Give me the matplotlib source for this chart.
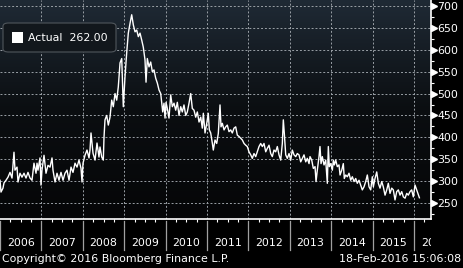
import numpy as np
import matplotlib
matplotlib.use("Agg")
import matplotlib.pyplot as plt
from matplotlib.patches import FancyBboxPatch, Rectangle
from matplotlib.colors import LinearSegmentedColormap
import matplotlib.transforms as mtransforms

# decimal years (offset from 2006.0) and values
t_off = [0.000, 0.024, 0.072, 0.097, 0.145, 0.193, 0.242, 0.290, 0.338, 0.362,
         0.411, 0.435, 0.483, 0.531, 0.580, 0.628, 0.676, 0.725, 0.773, 0.821,
         0.870, 0.894, 0.918, 0.966, 0.990, 1.014, 1.063, 1.111, 1.159, 1.208,
         1.256, 1.280, 1.329, 1.377, 1.425, 1.473, 1.522, 1.570, 1.618, 1.667,
         1.715, 1.763, 1.812, 1.860, 1.908, 1.957, 1.981, 2.005, 2.053, 2.101,
         2.150, 2.174, 2.198, 2.246, 2.295, 2.343, 2.391, 2.415, 2.457, 2.495,
         2.512, 2.536, 2.577, 2.616, 2.657, 2.698, 2.737, 2.778, 2.819, 2.857,
         2.899, 2.940, 2.978, 3.019, 3.060, 3.099, 3.140, 3.181, 3.220, 3.261,
         3.302, 3.341, 3.382, 3.423, 3.461, 3.502, 3.527, 3.558, 3.599, 3.640,
         3.679, 3.720, 3.761, 3.800, 3.841, 3.882, 3.906, 3.930, 3.961, 3.986,
         4.010, 4.041, 4.082, 4.123, 4.162, 4.203, 4.244, 4.283, 4.324, 4.365,
         4.403, 4.444, 4.486, 4.524, 4.565, 4.606, 4.645, 4.686, 4.727, 4.766,
         4.807, 4.848, 4.886, 4.911, 4.952, 4.993, 5.031, 5.056, 5.089, 5.128,
         5.152, 5.193, 5.234, 5.273, 5.314, 5.338, 5.370, 5.411, 5.452, 5.490,
         5.531, 5.572, 5.611, 5.652, 5.693, 5.732, 5.773, 5.814, 5.853, 5.894,
         5.935, 5.973, 6.014, 6.056, 6.094, 6.135, 6.176, 6.215, 6.256, 6.297,
         6.336, 6.377, 6.418, 6.457, 6.498, 6.539, 6.577, 6.618, 6.659, 6.698,
         6.739, 6.780, 6.819, 6.843, 6.867, 6.901, 6.940, 6.981, 7.022, 7.060,
         7.101, 7.143, 7.181, 7.222, 7.263, 7.302, 7.343, 7.384, 7.423, 7.464,
         7.488, 7.529, 7.568, 7.609, 7.633, 7.664, 7.705, 7.729, 7.754, 7.785,
         7.826, 7.867, 7.906, 7.930, 7.954, 7.988, 8.027, 8.051, 8.075, 8.109,
         8.147, 8.188, 8.213, 8.254, 8.292, 8.316, 8.350, 8.389, 8.430, 8.471,
         8.510, 8.551, 8.592, 8.630, 8.671, 8.712, 8.751, 8.792, 8.833, 8.872,
         8.913, 8.954, 8.993, 9.017, 9.058, 9.099, 9.138, 9.179, 9.220, 9.258,
         9.300, 9.341, 9.379, 9.420, 9.461, 9.500, 9.541, 9.582, 9.621, 9.662,
         9.703, 9.742, 9.783, 9.824, 9.862, 9.903, 9.944, 9.983, 10.024, 10.065,
         10.130]
values = [302, 275, 284, 296, 302, 309, 320, 307, 366, 325,
          332, 298, 318, 309, 318, 307, 320, 307, 302, 341,
          318, 341, 325, 353, 291, 325, 359, 318, 336, 332,
          353, 325, 298, 318, 302, 320, 302, 318, 325, 302,
          332, 320, 341, 332, 348, 329, 298, 341, 359, 371,
          353, 371, 410, 364, 348, 387, 355, 378, 355, 348,
          400, 440, 450, 428, 446, 485, 470, 500, 485, 515,
          570, 580, 470, 538, 593, 638, 660, 680, 657, 641,
          645, 630, 638, 622, 606, 577, 526, 580, 561, 572,
          550, 554, 535, 524, 508, 500, 480, 458, 478, 444,
          480, 466, 444, 497, 470, 478, 462, 480, 450, 470,
          458, 474, 450, 458, 478, 500, 466, 462, 446, 458,
          435, 446, 421, 455, 410, 432, 455, 417, 410, 387,
          371, 394, 386, 409, 474, 424, 432, 417, 424, 428,
          413, 417, 410, 421, 424, 405, 402, 398, 394, 386,
          382, 379, 367, 360, 352, 363, 356, 367, 379, 386,
          379, 386, 367, 375, 382, 363, 356, 371, 367, 379,
          360, 348, 386, 440, 409, 360, 352, 363, 348, 371,
          360, 356, 363, 360, 344, 352, 360, 344, 352, 340,
          356, 348, 329, 333, 299, 325, 356, 379, 340, 356,
          337, 348, 295, 379, 333, 340, 325, 348, 337, 348,
          333, 337, 314, 325, 340, 306, 314, 310, 318, 302,
          310, 299, 306, 295, 302, 291, 280, 287, 299, 314,
          287, 280, 310, 287, 306, 321, 295, 284, 299, 287,
          268, 280, 295, 272, 284, 280, 257, 276, 280, 268,
          276, 264, 261, 272, 268, 276, 280, 264, 291, 280,
          262]

start_year = 2006
years = list(range(2006, 2017))
y_ticks = [250, 300, 350, 400, 450, 500, 550, 600, 650, 700]
last_label = "Actual  262.00"
copyright_txt = "Copyright\u00a9 2016 Bloomberg Finance L.P."
stamp_txt = "18-Feb-2016 15:06:08"

W, H = 464, 268
plt.rcParams['font.family'] = ['DejaVu Sans']
fs = 7.9

fig = plt.figure(figsize=(W / 100, H / 100), dpi=100, facecolor='black')
ax = fig.add_axes([0, (H - 219) / H, 431 / W, 219 / H])
ax.set_facecolor('black')

x = start_year + np.array(t_off)
ax.set_xlim(2006.0, 2016.41)
ax.set_ylim(213.5, 713.7)

# gradient background
cmap = LinearSegmentedColormap.from_list('bg', ['#1f2a35', '#0b0e11', '#050607'])
grad = np.linspace(0, 1, 256).reshape(-1, 1)
ax.imshow(grad, cmap=cmap, aspect='auto', extent=[0, 1, 0, 1],
          transform=ax.transAxes, zorder=0, origin='upper')

# grid
for v in y_ticks:
    ax.axhline(v, color='#9aa0a6', lw=0.7, ls=(0, (2, 2)), zorder=1)
for yr in years[1:]:
    ax.axvline(yr, color='#9aa0a6', lw=0.7, ls=(0, (2, 2)), zorder=1)

ax.plot(x, values, color='white', lw=1.0, zorder=3)

# spines
for s in ['top', 'left']:
    ax.spines[s].set_visible(False)
for s in ['right', 'bottom']:
    ax.spines[s].set_color('white')
    ax.spines[s].set_linewidth(1.2)

# y axis on right
ax.yaxis.tick_right()
ax.set_yticks(y_ticks)
ax.set_yticklabels([str(v) for v in y_ticks])
ax.set_yticks(np.arange(225, 713, 50), minor=True)
ax.tick_params(axis='y', which='major', length=0, pad=4.5, labelsize=fs,
               labelcolor='white')
ax.tick_params(axis='y', which='minor', length=2.5, width=0.8, color='white',
               direction='out')
tri = mtransforms.blended_transform_factory(ax.transAxes, ax.transData)
ax.plot([1 + 3 / 431] * len(y_ticks), y_ticks, ls='none', marker='>',
        ms=4.2, color='white', transform=tri, clip_on=False, zorder=5)

# x axis: quarterly minor ticks, manual year labels
ax.set_xticks([])
ax.set_xticks([yr + q for yr in years for q in (0.25, 0.5, 0.75)
               if yr + q < 2016.41], minor=True)
ax.tick_params(axis='x', which='minor', length=2.5, width=0.8, color='white',
               direction='out')
ax.tick_params(axis='x', which='major', length=0)

xt = mtransforms.blended_transform_factory(ax.transData, ax.transAxes)
for yr in years:
    ax.plot([yr, yr], [-2 / 219, -31 / 219], color='#a0a0a0', lw=0.9,
            transform=xt, clip_on=False)
clip_rect = Rectangle((0, 0), 431 / W, 1, transform=fig.transFigure)
for yr in years:
    t = ax.text(yr + 0.5, -24 / 219, str(yr), color='white', fontsize=fs,
                ha='center', va='center', transform=xt, clip_on=False)
    if yr == 2016:
        t.set_clip_on(True)
        t.set_clip_path(clip_rect)

# legend box
fig.patches.append(FancyBboxPatch((3 / W, (H - 52) / H), 113 / W, 29 / H,
                                  boxstyle='round,pad=0,rounding_size=0.012',
                                  transform=fig.transFigure, facecolor='#12171c',
                                  edgecolor='#50565c', lw=0.8, zorder=10))
fig.patches.append(Rectangle((12 / W, (H - 43) / H), 11 / W, 11 / H,
                             transform=fig.transFigure, facecolor='white',
                             edgecolor='none', zorder=11))
fig.text(28 / W, (H - 38) / H, last_label, color='white', fontsize=fs,
         ha='left', va='center', zorder=12)

# footer
fig.text(2 / W, (H - 259.5) / H, copyright_txt, color='white', fontsize=fs,
         ha='left', va='center')
fig.text(461 / W, (H - 259.5) / H, stamp_txt, color='white', fontsize=fs,
         ha='right', va='center')

fig.savefig('out.png', dpi=100, facecolor='black')
